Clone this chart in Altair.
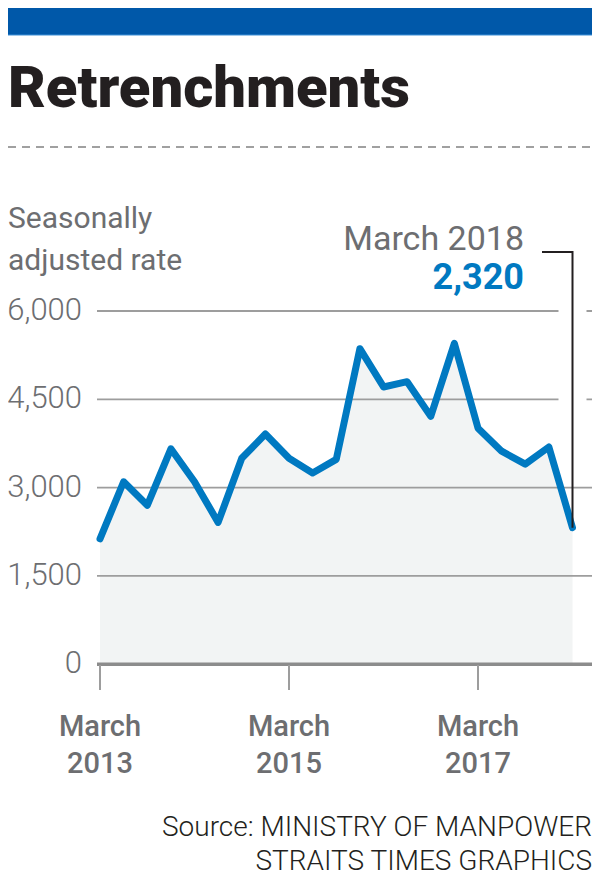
import altair as alt
import pandas as pd

# ---- data ----
quarter_labels = [
    "March 2013", "June 2013", "September 2013", "December 2013",
    "March 2014", "June 2014", "September 2014", "December 2014",
    "March 2015", "June 2015", "September 2015", "December 2015",
    "March 2016", "June 2016", "September 2016", "December 2016",
    "March 2017", "June 2017", "September 2017", "December 2017",
    "March 2018",
]
values = [2130, 3100, 2700, 3660, 3100, 2410, 3500, 3910, 3500, 3250,
          3480, 5360, 4710, 4800, 4210, 5450, 4010, 3620, 3400, 3690, 2320]
y_ticks = [0, 1500, 3000, 4500, 6000]
x_tick_index = [0, 8, 16]

title_text = "Retrenchments"
y_title = "Seasonally\nadjusted rate"
source_text = "Source: MINISTRY OF MANPOWER\nSTRAITS TIMES GRAPHICS"

# ---- styling ----
BLUE = "#0079C1"
GREY_TXT = "#6D6E71"
DARK = "#231F20"
FONT = "Roboto"

W, H = 584, 872

df = pd.DataFrame({"i": list(range(len(values))), "label": quarter_labels, "v": values})
ticks_df = pd.DataFrame({"t": y_ticks})
xt_df = df[df["i"].isin(x_tick_index)]
last_df = df.tail(1)

xs = alt.Scale(domain=[0, len(values) - 1], range=[92, 564.5], nice=False, zero=False)
ys = alt.Scale(domain=[0, 6000], range=[656.3, 303], nice=False)
X = alt.X("i:Q", scale=xs, axis=None)
Y = alt.Y("v:Q", scale=ys, axis=None)
YT = alt.Y("t:Q", scale=ys, axis=None)

blank = alt.Chart(alt.Data(values=[{"a": 1}]))

band = blank.mark_rect(color="#0058A9").encode(
    x=alt.value(0), x2=alt.value(W), y=alt.value(0), y2=alt.value(27))
band_edge = blank.mark_rule(color="#3D8FD8", strokeWidth=1.2).encode(
    x=alt.value(0), x2=alt.value(W), y=alt.value(27))

title = blank.mark_text(align="left", baseline="alphabetic", font=FONT,
                        fontSize=58, fontWeight=900, color=DARK).encode(
    x=alt.value(0), y=alt.value(99), text=alt.value(title_text))

dashed = blank.mark_rule(color="#A0A0A0", strokeWidth=2, strokeDash=[8, 6]).encode(
    x=alt.value(0), x2=alt.value(W), y=alt.value(139))

ytitle = blank.mark_text(align="left", baseline="alphabetic", font=FONT,
                         fontSize=30, lineBreak="\n", lineHeight=42,
                         color=GREY_TXT).encode(
    x=alt.value(0), y=alt.value(220), text=alt.value(y_title))

area = alt.Chart(df).mark_area(color="#F2F4F4").encode(x=X, y=Y)

grid = alt.Chart(ticks_df[ticks_df["t"] > 0]).mark_rule(
    color="#9D9D9D", strokeWidth=1.8).encode(
    y=YT, x=alt.value(89), x2=alt.value(W))

halo = alt.Chart(last_df).mark_rule(color="white", strokeWidth=28).encode(
    x=X, y=alt.value(288), y2=alt.value(402))

zero = alt.Chart(ticks_df[ticks_df["t"] == 0]).mark_rule(
    color="#8C8C8C", strokeWidth=3.5).encode(
    y=YT, x=alt.value(89), x2=alt.value(W))

xticks = alt.Chart(xt_df).mark_rule(color="#9D9D9D", strokeWidth=2).encode(
    x=X, y=alt.value(657), y2=alt.value(682))

xlabels = alt.Chart(xt_df).mark_text(
    align="center", baseline="alphabetic", font=FONT, fontSize=29,
    fontWeight=500, lineBreak=" ", lineHeight=37, color=GREY_TXT).encode(
    x=X, y=alt.value(728), text="label:N")

ylabels = alt.Chart(ticks_df).mark_text(
    align="right", baseline="middle", font=FONT, fontSize=31, fontWeight=300,
    color=GREY_TXT).encode(
    y=YT, x=alt.value(74), text=alt.Text("t:Q", format=","))

line = alt.Chart(df).mark_line(color=BLUE, strokeWidth=7, strokeCap="round",
                               strokeJoin="round").encode(x=X, y=Y)

ann_h = alt.Chart(last_df).mark_rule(color=DARK, strokeWidth=2).encode(
    x=X, x2=alt.value(534), y=alt.value(244))
ann_v = alt.Chart(last_df).mark_rule(color=DARK, strokeWidth=2).encode(
    x=X, y=Y, y2=alt.value(243))

ann_label = alt.Chart(last_df).mark_text(
    align="right", baseline="alphabetic", font=FONT, fontSize=34,
    color=GREY_TXT).encode(x=alt.value(516), y=alt.value(242), text="label:N")
ann_value = alt.Chart(last_df).mark_text(
    align="right", baseline="alphabetic", font=FONT, fontSize=36,
    fontWeight="bold", color=BLUE).encode(
    x=alt.value(516), y=alt.value(281), text=alt.Text("v:Q", format=","))

source = blank.mark_text(align="right", baseline="alphabetic", font=FONT,
                         fontWeight=300, fontSize=28, lineBreak="\n",
                         lineHeight=34, color=DARK).encode(
    x=alt.value(W), y=alt.value(828), text=alt.value(source_text))

chart = alt.layer(
    band, band_edge, title, dashed, ytitle, area, grid, halo, zero, xticks,
    xlabels, ylabels, line, ann_h, ann_v, ann_label, ann_value, source
).properties(
    width=W, height=H, autosize=alt.AutoSizeParams(type="none"), padding=0,
    background="white"
).configure_view(stroke=None)

chart.save("out.html", embed_options={"renderer": "svg", "actions": False})
